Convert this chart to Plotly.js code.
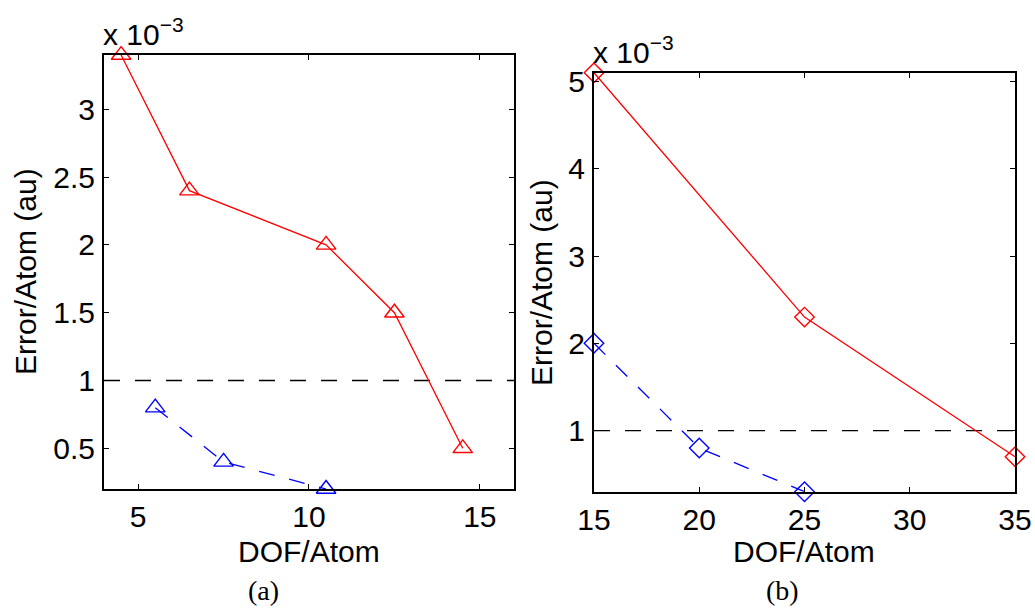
<!DOCTYPE html>
<html>
<head>
<meta charset="utf-8">
<script src="https://cdn.plot.ly/plotly-3.0.1.min.js"></script>
<style>html,body{margin:0;padding:0;background:#fff;}#chart{width:1035px;height:608px;}</style>
</head>
<body>
<div id="chart"></div>
<script>
// Panel (a) data, Error/Atom in units of 1e-3 au
const dofA_red = [4.5, 6.5, 10.5, 12.5, 14.5];
const errA_red = [3.4, 2.4, 2.0, 1.5, 0.5];
const dofA_blue = [5.5, 7.5, 10.5];
const errA_blue = [0.8, 0.4, 0.2];
// Panel (b) data
const dofB_red = [15, 25, 35];
const errB_red = [5.1, 2.3, 0.7];
const dofB_blue = [15, 20, 25];
const errB_blue = [2.0, 0.8, 0.3];
// Threshold (1e-3 au)
const threshold = 1;
// Tick labels
const xTicksA = [5, 10, 15];
const yTicksA = [0.5, 1, 1.5, 2, 2.5, 3];
const xTicksB = [15, 20, 25, 30, 35];
const yTicksB = [1, 2, 3, 4, 5];
const xTitle = 'DOF/Atom';
const yTitle = 'Error/Atom (au)';
const expLabel = 'x 10<sup>\u22123</sup>';
const captions = ['(a)', '(b)'];

const FONT = 'Liberation Sans, Arial, Helvetica, sans-serif';
const SERIF = 'Liberation Serif, DejaVu Serif, serif';
const FS = 30;
const red = '#ff0000', blue = '#0000ff';
const DASH = '16px,15px';

const traces = [
  {x: dofA_red, y: errA_red, xaxis: 'x', yaxis: 'y', mode: 'lines+markers', cliponaxis: false,
   line: {color: red, width: 1.3}, marker: {symbol: 'triangle-up-open', size: 17, color: red, line: {width: 1.4}}},
  {x: dofA_blue, y: errA_blue, xaxis: 'x', yaxis: 'y', mode: 'lines+markers', cliponaxis: false,
   line: {color: blue, width: 1.3, dash: DASH}, marker: {symbol: 'triangle-up-open', size: 17, color: blue, line: {width: 1.4}}},
  {x: dofB_red, y: errB_red, xaxis: 'x2', yaxis: 'y2', mode: 'lines+markers', cliponaxis: false,
   line: {color: red, width: 1.3}, marker: {symbol: 'diamond-open', size: 15, color: red, line: {width: 1.4}}},
  {x: dofB_blue, y: errB_blue, xaxis: 'x2', yaxis: 'y2', mode: 'lines+markers', cliponaxis: false,
   line: {color: blue, width: 1.3, dash: DASH}, marker: {symbol: 'diamond-open', size: 15, color: blue, line: {width: 1.4}}}
];

function axisBase(extra) {
  return Object.assign({
    showgrid: false, zeroline: false, showline: true, mirror: 'ticks',
    linecolor: '#000', linewidth: 2, ticks: 'inside', ticklen: 5, tickwidth: 1,
    tickcolor: '#000', tickfont: {family: FONT, size: FS, color: '#000'},
    automargin: false, fixedrange: true
  }, extra);
}

const layout = {
  width: 1035, height: 608,
  margin: {l: 0, r: 0, t: 0, b: 0},
  paper_bgcolor: '#fff', plot_bgcolor: '#fff',
  showlegend: false,
  font: {family: FONT, color: '#000'},
  xaxis: axisBase({domain: [0.1005, 0.4966], range: [4, 16], tickvals: xTicksA, anchor: 'y'}),
  yaxis: axisBase({domain: [0.1957, 0.9095], range: [0.2, 3.4], tickvals: yTicksA, anchor: 'x', ticklabelstandoff: 1}),
  xaxis2: axisBase({domain: [0.5739, 0.9807], range: [15, 35], tickvals: xTicksB, anchor: 'y2'}),
  yaxis2: axisBase({domain: [0.1913, 0.8804], range: [0.3, 5.1], tickvals: yTicksB, anchor: 'x2', ticklabelstandoff: 1}),
  shapes: [
    {type: 'line', xref: 'x domain', yref: 'y', x0: 0, x1: 1, y0: threshold, y1: threshold,
     line: {color: '#000', width: 1.4, dash: DASH}, layer: 'below'},
    {type: 'line', xref: 'x2 domain', yref: 'y2', x0: 0, x1: 1, y0: threshold, y1: threshold,
     line: {color: '#000', width: 1.4, dash: DASH}, layer: 'below'}
  ],
  annotations: [
    {text: expLabel, xref: 'paper', yref: 'paper', x: 101/1035, y: 1 - 53/608, xanchor: 'left', yanchor: 'bottom',
     showarrow: false, font: {family: FONT, size: FS}},
    {text: expLabel, xref: 'paper', yref: 'paper', x: 591/1035, y: 1 - 71/608, xanchor: 'left', yanchor: 'bottom',
     showarrow: false, font: {family: FONT, size: FS}},
    {text: xTitle, xref: 'paper', yref: 'paper', x: 309/1035, y: 1 - 551/608, xanchor: 'center', yanchor: 'middle',
     showarrow: false, font: {family: FONT, size: FS}},
    {text: xTitle, xref: 'paper', yref: 'paper', x: 804/1035, y: 1 - 551/608, xanchor: 'center', yanchor: 'middle',
     showarrow: false, font: {family: FONT, size: FS}},
    {text: yTitle, xref: 'paper', yref: 'paper', x: 25/1035, y: 1 - 272/608, xanchor: 'center', yanchor: 'middle',
     textangle: -90, showarrow: false, font: {family: FONT, size: FS}},
    {text: yTitle, xref: 'paper', yref: 'paper', x: 541/1035, y: 1 - 283/608, xanchor: 'center', yanchor: 'middle',
     textangle: -90, showarrow: false, font: {family: FONT, size: FS}},
    {text: captions[0], xref: 'paper', yref: 'paper', x: 263/1035, y: 1 - 590/608, xanchor: 'center', yanchor: 'middle',
     showarrow: false, font: {family: SERIF, size: 28}},
    {text: captions[1], xref: 'paper', yref: 'paper', x: 782/1035, y: 1 - 590/608, xanchor: 'center', yanchor: 'middle',
     showarrow: false, font: {family: SERIF, size: 28}}
  ]
};

Plotly.newPlot('chart', traces, layout, {displayModeBar: false, staticPlot: true});
</script>
</body>
</html>
